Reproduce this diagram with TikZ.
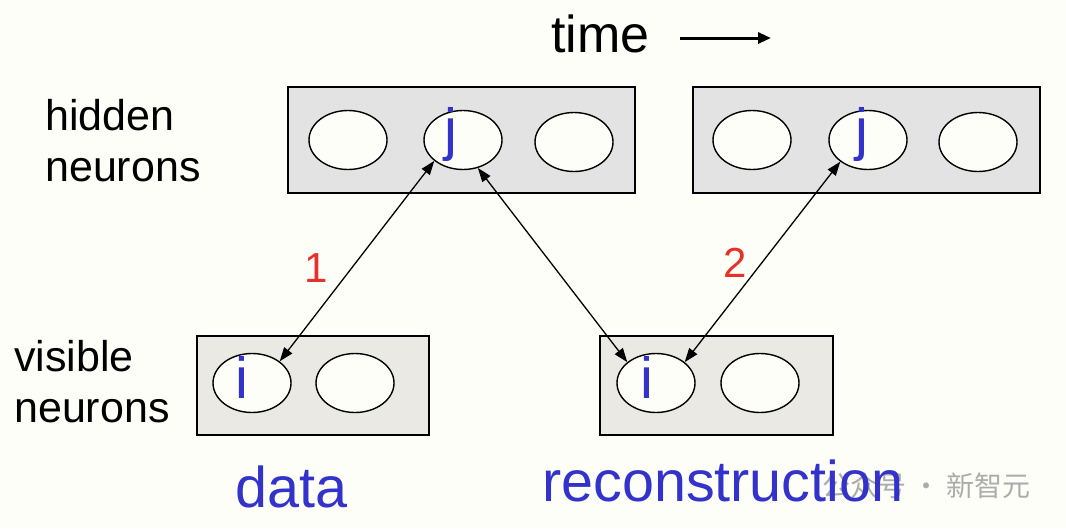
\documentclass[tikz,border=0pt]{standalone}
\usepackage{fontspec}
\setmainfont{Liberation Sans}
\newfontfamily\cjk{Noto Sans CJK SC}
\usepackage{tikz}
\usetikzlibrary{
    arrows.meta,
    shapes.geometric
}
\definecolor{fond}{RGB}{254,254,248}
\definecolor{grisA}{RGB}{227,227,227}
\definecolor{grisB}{RGB}{235,233,228}
\definecolor{bleu}{RGB}{51,51,204}
\definecolor{rouge}{RGB}{232,48,42}
\definecolor{marque}{RGB}{172,172,172}

\begin{document}
\begin{tikzpicture}[x=1pt,y=-1pt,
    couche/.style={draw,line width=1.5pt,inner sep=0pt,outer sep=0pt},
    neurone/.style={ellipse,draw,fill=fond,line width=1.4pt,inner sep=0pt,
        minimum width=78pt,minimum height=59pt},
    lettre/.style={text=bleu,inner sep=0pt,font=\fontsize{58}{60}\selectfont},
    titre/.style={inner sep=0pt,align=left,font=\fontsize{43}{51}\selectfont},
    legende/.style={text=bleu,inner sep=0pt,font=\fontsize{57.5}{60}\selectfont},
    numero/.style={text=rouge,inner sep=0pt,font=\fontsize{42}{44}\selectfont},
    fleche/.style={<->,line width=1.3pt,>={Triangle[length=14pt,width=10pt]}}
]

% Fond
\fill[fond] (0,0) rectangle (1066,528);
\useasboundingbox (0,0) rectangle (1066,528);

% Filigrane
\node[anchor=base west,inner sep=0pt,text=marque,
    font=\cjk\fontsize{28}{30}\selectfont] (filigrane) at (822,496) {公众号 · 新智元};

% Temps
\node[anchor=base west,inner sep=0pt,font=\fontsize{52}{56}\selectfont] (temps) at (551,52) {time};
\coordinate (t0) at (680,38);
\coordinate (t1) at (771,38);
\draw[-{Triangle[length=13pt,width=11pt]},line width=3pt] (t0) -- (t1);

% Etiquettes des couches
\node[titre,anchor=base west] (cache) at (45,181) {hidden\\neurons};
\node[titre,anchor=base west] (visible) at (14,422) {visible\\neurons};

% Couches cachees
\node[couche,fill=grisA,minimum width=347pt,minimum height=106pt] (hid1) at (461.5,140) {};
\node[couche,fill=grisA,minimum width=347pt,minimum height=106pt] (hid2) at (866.5,140) {};

% Couches visibles
\node[couche,fill=grisB,minimum width=232pt,minimum height=99pt] (vis1) at (313,385.5) {};
\node[couche,fill=grisB,minimum width=233pt,minimum height=99pt] (vis2) at (716.5,385.5) {};

% Neurones caches
\foreach \x/\y/\n in {348/140/1,463/140/2,574/142/3} {
    \node[neurone] (h1\n) at (\x,\y) {};
}
\foreach \x/\y/\n in {752/140/1,868/140/2,978/142/3} {
    \node[neurone] (h2\n) at (\x,\y) {};
}

% Neurones visibles
\foreach \x/\n in {252/1,355/2} {
    \node[neurone] (v1\n) at (\x,383) {};
}
\foreach \x/\n in {656/1,760/2} {
    \node[neurone] (v2\n) at (\x,383) {};
}

% Indices
\node[lettre,anchor=base] (j1) at (451,149) {j};
\node[lettre,anchor=base] (j2) at (862,149) {j};
\node[lettre,anchor=base] (i1) at (242,398) {i};
\node[lettre,anchor=base] (i2) at (647,398) {i};

% Connexions
\draw[fleche] (v11.38) -- (h12.216);
\draw[fleche] (h12.298) -- (v21.144);
\draw[fleche] (h22.218) -- (v21.36);

% Etapes
\node[numero] (un) at (316,268) {1};
\node[numero] (deux) at (735,263) {2};

% Legendes
\node[legende,anchor=base west] (donnees) at (235,507) {data};
\node[legende,anchor=base west] (recons) at (542,501) {reconstruction};

\end{tikzpicture}
\end{document}
